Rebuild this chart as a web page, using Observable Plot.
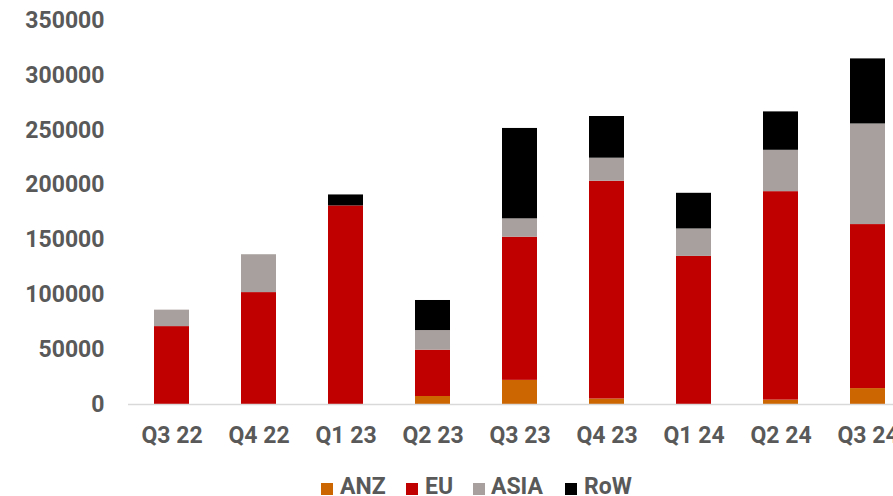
<!DOCTYPE html>
<html>
<head>
<meta charset="utf-8">
<script src="https://cdn.jsdelivr.net/npm/d3@7"></script>
<script src="https://cdn.jsdelivr.net/npm/@observablehq/plot@0.6"></script>
<style>
  html, body { margin: 0; padding: 0; background: #fff; overflow: hidden; }
  #chart svg { display: block; }
  #legend { position: relative; height: 36px; font-family: Roboto, sans-serif; font-weight: bold; font-size: 23px; color: #595959; }
  #legend .sw { position: absolute; width: 12px; height: 12px; top: 23px; }
  #legend .lb { position: absolute; top: 17.5px; line-height: 18px; white-space: nowrap; }
</style>
</head>
<body>
<div id="chart"></div>
<div id="legend"></div>
<script>
const quarters = ["Q3 22", "Q4 22", "Q1 23", "Q2 23", "Q3 23", "Q4 23", "Q1 24", "Q2 24", "Q3 24"];
const anz  = [0,     0,      0,      7300,  22000,  5000,   0,      4000,   14500];
const eu   = [71000, 102000, 181000, 42200, 130500, 198500, 135000, 190000, 149500];
const asia = [15000, 34500,  0,      17900, 16700,  21000,  25000,  37700,  91700];
const row  = [0,     0,      10000,  27400, 82400,  38000,  32500,  35000,  59300];
const seriesNames = ["ANZ", "EU", "ASIA", "RoW"];
const seriesColors = ["#cc6600", "#c00000", "#a7a09e", "#000000"];
const yTicks = [0, 50000, 100000, 150000, 200000, 250000, 300000, 350000];

const seriesValues = [anz, eu, asia, row];
const data = [];
seriesNames.forEach((s, si) => {
  quarters.forEach((q, qi) => data.push({quarter: q, series: s, value: seriesValues[si][qi]}));
});

const chart = Plot.plot({
  width: 893,
  height: 460,
  marginTop: 20,
  marginBottom: 56,
  marginLeft: 128,
  marginRight: -18,
  style: {fontFamily: "Roboto, sans-serif", fontSize: "23px", fontWeight: "bold", color: "#595959", background: "#fff"},
  x: {domain: quarters, paddingInner: 0.6, paddingOuter: 0.3, label: null, tickSize: 0, tickPadding: 22},
  y: {domain: [0, 350000], ticks: yTicks, tickFormat: d => String(d), label: null, tickSize: 0, tickPadding: 24},
  color: {domain: seriesNames, range: seriesColors},
  marks: [
    Plot.barY(data, {x: "quarter", y: "value", fill: "series"}),
    Plot.ruleY([0], {stroke: "#d9d9d9", strokeWidth: 1.5})
  ]
});
document.getElementById("chart").appendChild(chart);

const legendPos = [[321, 340], [406, 425], [473, 491], [565, 584]];
const legend = document.getElementById("legend");
seriesNames.forEach((s, i) => {
  const sw = document.createElement("div");
  sw.className = "sw";
  sw.style.left = legendPos[i][0] + "px";
  sw.style.background = seriesColors[i];
  legend.appendChild(sw);
  const lb = document.createElement("div");
  lb.className = "lb";
  lb.style.left = legendPos[i][1] + "px";
  lb.textContent = s;
  legend.appendChild(lb);
});
</script>
</body>
</html>
